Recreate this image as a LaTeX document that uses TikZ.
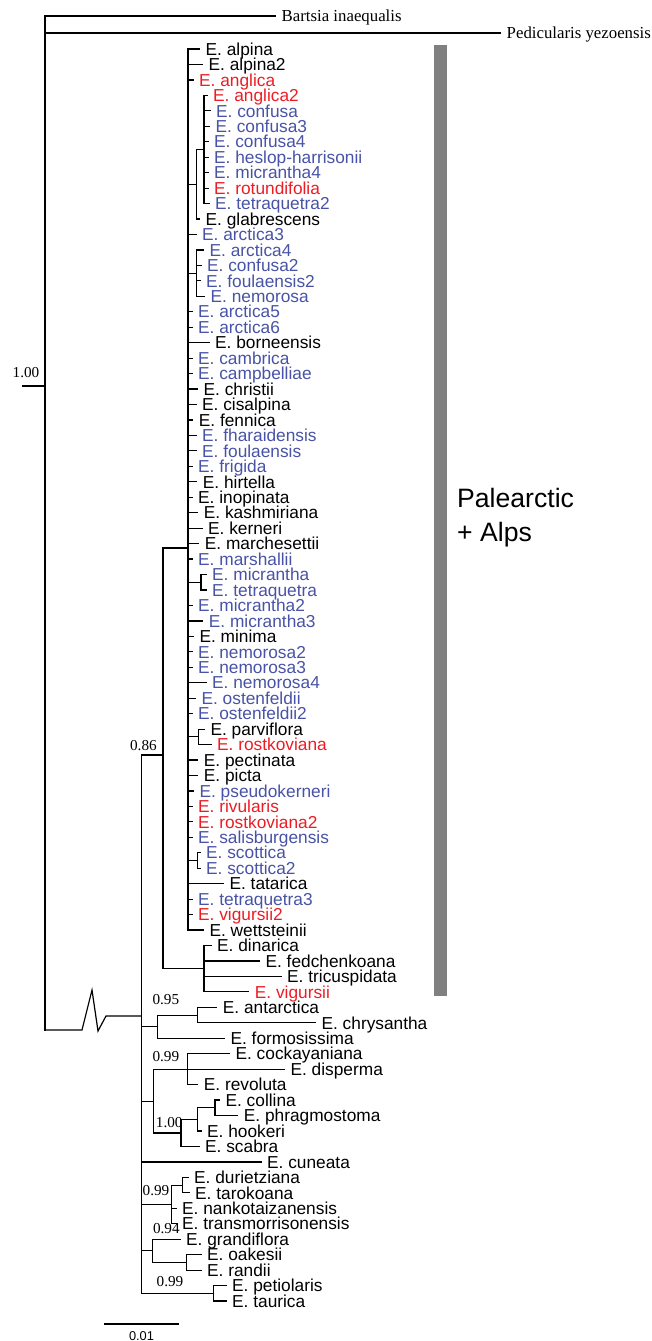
\documentclass[tikz,border=0pt]{standalone}
\usepackage{fontspec}
\setmainfont{Liberation Serif}
\newfontfamily\arialf{Liberation Sans}
\definecolor{tred}{RGB}{237,28,36}
\definecolor{tblue}{RGB}{72,82,166}
\definecolor{barc}{RGB}{128,128,128}
\newcommand\leaf[5]{%
  \coordinate (t#2) at (#3,{49+(#2-1)*15.457});
  \node[lab,text=#4] (l#2) at (t#2) {E. #5};
  \draw[br] (#1 |- t#2) -- (t#2);
}
\begin{document}
\begin{tikzpicture}[x=1pt,y=-1pt,
  br/.style={line width=1.2pt, line cap=rect},
  lab/.style={anchor=base west, inner sep=0pt, xshift=6pt, yshift=-6.2pt, font=\arialf\fontsize{17.3}{18}\selectfont},
  outl/.style={anchor=base west, inner sep=0pt, xshift=6.5pt, yshift=-5.5pt, font=\fontsize{16.8}{17}\selectfont},
  sup/.style={inner sep=0pt, font=\fontsize{15.2}{16}\selectfont},
]
\useasboundingbox (0,0) rectangle (652,1341);
% grey bar
\fill[barc] (434,45) rectangle (447,996);
\node[anchor=base west, inner sep=0pt, font=\arialf\fontsize{26.6}{30}\selectfont] (pal1) at (457,507.8) {Palearctic};
\node[anchor=base west, inner sep=0pt, font=\arialf\fontsize{26.6}{30}\selectfont] (pal2) at (457,541.2) {+ Alps};
% root and outgroups
\coordinate (nRoot) at (45,386);
\coordinate (nStemL) at (23,386);
\coordinate (oB) at (275,16);
\coordinate (oP) at (500,33);
\node[outl] (lB) at (oB) {Bartsia inaequalis};
\node[outl] (lP) at (oP) {Pedicularis yezoensis};
\draw[br] (nRoot |- oB) -- (oB);
\draw[br] (nRoot |- oP) -- (oP);
\draw[br] (nStemL) -- (nRoot);
\node[sup] (s1) at (26,372.7) {1.00};
% broken stem
\coordinate (z0) at (45,1030);
\coordinate (z1) at (82,1030);
\coordinate (z2) at (92,990);
\coordinate (z3) at (98,1031);
\coordinate (z4) at (106,1016);
\coordinate (nCrown) at (141.7,1016);
\draw[br] (nRoot |- oB) -- (z0);
\draw[line width=1.2pt, line join=miter] (z0) -- (z1) -- (z2) -- (z3) -- (z4) -- (nCrown);
% 0.86 clade
\coordinate (n086) at (163,755);
\coordinate (nP) at (188,548);
\coordinate (nD) at (204,968.7);
\draw[br] (nCrown |- n086) -- (n086);
\draw[br] (n086 |- nP) -- (n086 |- nD);
\draw[br] (n086 |- nP) -- (nP);
\draw[br] (n086 |- nD) -- (nD);
\node[sup] (s2) at (143.4,746) {0.86};
% Palearctic polytomy
\leaf{nP}{1}{199.5}{black}{alpina}
\leaf{nP}{2}{202.5}{black}{alpina2}
\leaf{nP}{3}{193}{tred}{anglica}
\coordinate (nA) at (196.7,184.25);
\coordinate (nI) at (204,149.47);
\draw[br] (nP |- nA) -- (nA);
\draw[br] (nA |- nI) -- (nI);
\leaf{nI}{4}{207}{tred}{anglica2}
\leaf{nI}{5}{210}{tblue}{confusa}
\leaf{nI}{6}{209.5}{tblue}{confusa3}
\leaf{nI}{7}{208}{tblue}{confusa4}
\leaf{nI}{8}{208}{tblue}{heslop-harrisonii}
\leaf{nI}{9}{208}{tblue}{micrantha4}
\leaf{nI}{10}{208}{tred}{rotundifolia}
\leaf{nI}{11}{209}{tblue}{tetraquetra2}
\draw[br] (nI |- t4) -- (nI |- t11);
\leaf{nA}{12}{199.5}{black}{glabrescens}
\draw[br] (nA |- nI) -- (nA |- t12);
\leaf{nP}{13}{196}{tblue}{arctica3}
\coordinate (nB) at (196.7,273.1);
\draw[br] (nP |- nB) -- (nB);
\leaf{nB}{14}{203.5}{tblue}{arctica4}
\leaf{nB}{15}{201}{tblue}{confusa2}
\leaf{nB}{16}{200}{tblue}{foulaensis2}
\leaf{nB}{17}{204.5}{tblue}{nemorosa}
\draw[br] (nB |- t14) -- (nB |- t17);
\leaf{nP}{18}{192}{tblue}{arctica5}
\leaf{nP}{19}{192}{tblue}{arctica6}
\leaf{nP}{20}{209}{black}{borneensis}
\leaf{nP}{21}{192}{tblue}{cambrica}
\leaf{nP}{22}{192}{tblue}{campbelliae}
\leaf{nP}{23}{197.5}{black}{christii}
\leaf{nP}{24}{196}{black}{cisalpina}
\leaf{nP}{25}{192.7}{black}{fennica}
\leaf{nP}{26}{196}{tblue}{fharaidensis}
\leaf{nP}{27}{196}{tblue}{foulaensis}
\leaf{nP}{28}{192}{tblue}{frigida}
\leaf{nP}{29}{196.7}{black}{hirtella}
\leaf{nP}{30}{192}{black}{inopinata}
\leaf{nP}{31}{197.7}{black}{kashmiriana}
\leaf{nP}{32}{202}{black}{kerneri}
\leaf{nP}{33}{198.7}{black}{marchesettii}
\leaf{nP}{34}{192}{tblue}{marshallii}
\coordinate (nM) at (201,582.3);
\draw[br] (nP |- nM) -- (nM);
\leaf{nM}{35}{206}{tblue}{micrantha}
\leaf{nM}{36}{206}{tblue}{tetraquetra}
\draw[br] (nM |- t35) -- (nM |- t36);
\leaf{nP}{37}{192}{tblue}{micrantha2}
\leaf{nP}{38}{202.7}{tblue}{micrantha3}
\leaf{nP}{39}{193.4}{black}{minima}
\leaf{nP}{40}{192}{tblue}{nemorosa2}
\leaf{nP}{41}{192}{tblue}{nemorosa3}
\leaf{nP}{42}{206}{tblue}{nemorosa4}
\leaf{nP}{43}{195.4}{tblue}{ostenfeldii}
\leaf{nP}{44}{192}{tblue}{ostenfeldii2}
\coordinate (nR) at (198.3,736.8);
\draw[br] (nP |- nR) -- (nR);
\leaf{nR}{45}{204.4}{black}{parviflora}
\leaf{nR}{46}{211}{tred}{rostkoviana}
\draw[br] (nR |- t45) -- (nR |- t46);
\leaf{nP}{47}{197.7}{black}{pectinata}
\leaf{nP}{48}{197.7}{black}{picta}
\leaf{nP}{49}{193.4}{tblue}{pseudokerneri}
\leaf{nP}{50}{192}{tred}{rivularis}
\leaf{nP}{51}{192}{tred}{rostkoviana2}
\leaf{nP}{52}{192}{tblue}{salisburgensis}
\coordinate (nS) at (197.3,860.5);
\draw[br] (nP |- nS) -- (nS);
\leaf{nS}{53}{200}{tblue}{scottica}
\leaf{nS}{54}{200}{tblue}{scottica2}
\draw[br] (nS |- t53) -- (nS |- t54);
\leaf{nP}{55}{223.4}{black}{tatarica}
\leaf{nP}{56}{192}{tblue}{tetraquetra3}
\leaf{nP}{57}{192}{tred}{vigursii2}
\leaf{nP}{58}{203.4}{black}{wettsteinii}
\draw[br] (nP |- t1) -- (nP |- t58);
% dinarica group
\leaf{nD}{59}{211}{black}{dinarica}
\leaf{nD}{60}{259.4}{black}{fedchenkoana}
\leaf{nD}{61}{281}{black}{tricuspidata}
\leaf{nD}{62}{248.7}{tred}{vigursii}
\draw[br] (nD |- t59) -- (nD |- t62);
% 0.95 clade
\coordinate (n095) at (157.3,1026.7);
\coordinate (nAC) at (197.3,1015.1);
\draw[br] (nCrown |- n095) -- (n095);
\draw[br] (n095 |- nAC) -- (nAC);
\leaf{nAC}{63}{216.7}{black}{antarctica}
\leaf{nAC}{64}{315.4}{black}{chrysantha}
\draw[br] (nAC |- t63) -- (nAC |- t64);
\leaf{n095}{65}{224.4}{black}{formosissima}
\draw[br] (n095 |- nAC) -- (n095 |- t65);
\node[sup] (s3) at (165.8,1000) {0.95};
% 0.99 clade (NZ)
\coordinate (n099a) at (153.3,1101.1);
\coordinate (nCDR) at (187.3,1069.2);
\coordinate (n100b) at (181,1133);
\coordinate (nC) at (197.3,1119.4);
\coordinate (nD2) at (215,1107.8);
\draw[br] (nCrown |- n099a) -- (n099a);
\draw[br] (n099a |- nCDR) -- (nCDR);
\leaf{nCDR}{66}{229.4}{black}{cockayaniana}
\leaf{nCDR}{67}{284.4}{black}{disperma}
\leaf{nCDR}{68}{197.7}{black}{revoluta}
\draw[br] (nCDR |- t66) -- (nCDR |- t68);
\draw[br] (n099a |- nCDR) -- (n099a |- n100b);
\draw[br] (n099a |- n100b) -- (n100b);
\draw[br] (n100b |- nC) -- (nC);
\draw[br] (nC |- nD2) -- (nD2);
\leaf{nD2}{69}{219.4}{black}{collina}
\leaf{nD2}{70}{237.7}{black}{phragmostoma}
\draw[br] (nD2 |- t69) -- (nD2 |- t70);
\leaf{nC}{71}{201}{black}{hookeri}
\draw[br] (nC |- nD2) -- (nC |- t71);
\leaf{n100b}{72}{199}{black}{scabra}
\draw[br] (n100b |- nC) -- (n100b |- t72);
\node[sup] (s4) at (165.8,1056.7) {0.99};
\node[sup] (s5) at (169.2,1123) {1.00};
% cuneata
\leaf{nCrown}{73}{261}{black}{cuneata}
% 0.99 clade (Asia)
\coordinate (n099b) at (171.7,1204.4);
\coordinate (nDT) at (182.7,1185.1);
\draw[br] (nCrown |- n099b) -- (n099b);
\draw[br] (n099b |- nDT) -- (nDT);
\leaf{nDT}{74}{188}{black}{durietziana}
\leaf{nDT}{75}{189}{black}{tarokoana}
\draw[br] (nDT |- t74) -- (nDT |- t75);
\leaf{n099b}{76}{176}{black}{nankotaizanensis}
\leaf{n099b}{77}{176}{black}{transmorrisonensis}
\draw[br] (n099b |- nDT) -- (n099b |- t77);
\node[sup] (s6) at (156,1190.7) {0.99};
% 0.94 clade
\coordinate (n094) at (152.7,1250.8);
\coordinate (nOR) at (186.7,1262.4);
\draw[br] (nCrown |- n094) -- (n094);
\leaf{n094}{78}{180}{black}{grandiflora}
\draw[br] (n094 |- nOR) -- (nOR);
\leaf{nOR}{79}{201}{black}{oakesii}
\leaf{nOR}{80}{201}{black}{randii}
\draw[br] (nOR |- t79) -- (nOR |- t80);
\draw[br] (n094 |- t78) -- (n094 |- nOR);
\node[sup] (s7) at (166.3,1228.3) {0.94};
% 0.99 clade (petiolaris)
\coordinate (n099c) at (213.3,1293.35);
\draw[br] (nCrown |- n099c) -- (n099c);
\leaf{n099c}{81}{226}{black}{petiolaris}
\leaf{n099c}{82}{226}{black}{taurica}
\draw[br] (n099c |- t81) -- (n099c |- t82);
\node[sup] (s8) at (170,1281.7) {0.99};
% crown vertical
\draw[br] (nCrown |- n086) -- (nCrown |- n099c);
% scale bar
\coordinate (sb1) at (104,1324);
\coordinate (sb2) at (179,1324);
\draw[line width=1.5pt] (sb1) -- (sb2);
\node[inner sep=0pt, font=\arialf\fontsize{12.8}{13}\selectfont] (sbl) at (141.5,1336) {0.01};
\end{tikzpicture}
\end{document}
